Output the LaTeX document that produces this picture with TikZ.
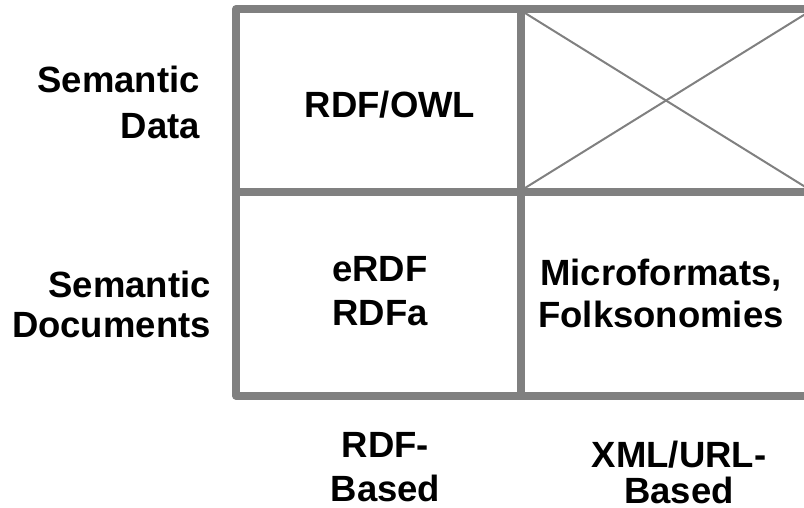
\documentclass[tikz,border=0pt]{standalone}
\usepackage{fontspec}
\setmainfont{Liberation Sans}
\usepackage{tikz}
\definecolor{gridgray}{RGB}{128,128,128}

\begin{document}
\begin{tikzpicture}[x=1pt,y=-1pt,
        label/.style={inner sep=0pt, align=center, font=\fontsize{36.5}{44}\selectfont\bfseries},
        rowlabel/.style={label, align=right, anchor=north east}]
        \useasboundingbox (0,0) rectangle (804,507);
        \clip (0,0) rectangle (804,507);

        % Corners of the grid
        \coordinate (tl) at (236,9);
        \coordinate (br) at (811,395.5);
        \coordinate (midx) at (521,0);
        \coordinate (midy) at (0,192);

        % Crossed-out cell
        \draw[gridgray, line width=2pt] (525,13) -- (807,188);
        \draw[gridgray, line width=2pt] (525,188) -- (807,13);

        % Grid
        \draw[gridgray, line width=8pt, line join=round] (tl) rectangle (br);
        \draw[gridgray, line width=8pt] (midx |- tl) -- (midx |- br);
        \draw[gridgray, line width=8pt] (midy -| tl) -- (midy -| br);

        % Row labels
        \node (semdata) [rowlabel] at (200,66) {Semantic\\[2pt]Data};
        \node (semdocs) [rowlabel] at (211,271) {Semantic\\[-4pt]Documents};

        % Cell contents
        \node (rdfowl) [label, anchor=north] at (390,91) {RDF/OWL};
        \node (erdf) [label, anchor=north] at (380,256) {eRDF\\RDFa};
        \node (micro) [label, anchor=north] at (661,259) {Microformats,\\[-2pt]Folksonomies};

        % Column labels
        \node (rdfbased) [label, anchor=north] at (385.5,432) {RDF-\\Based};
        \node (xmlbased) [label, anchor=north] at (679,441) {XML/URL-\\[-8pt]Based};
    \end{tikzpicture}
\end{document}
